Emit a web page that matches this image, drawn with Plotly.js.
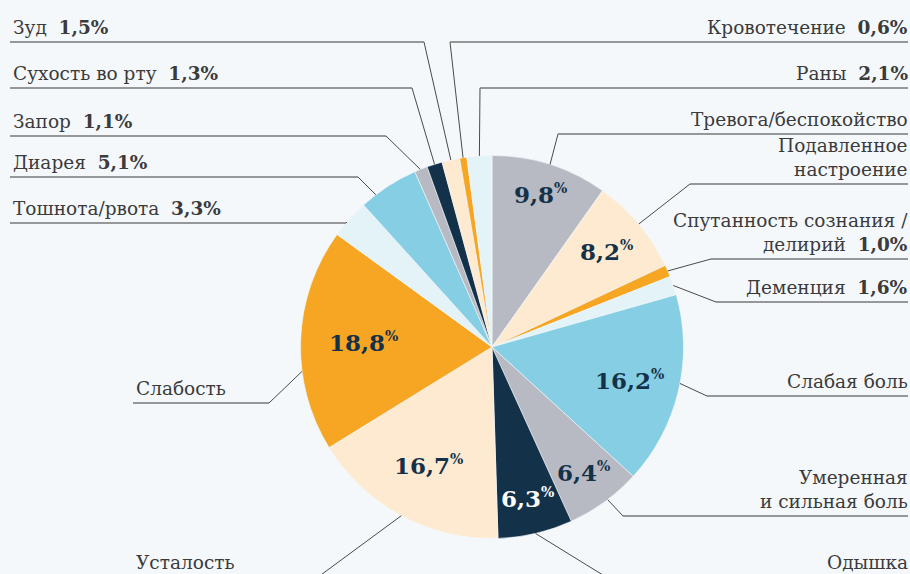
<!DOCTYPE html>
<html>
<head>
<meta charset="utf-8">
<script src="https://cdn.plot.ly/plotly-3.0.1.min.js"></script>
<style>
  html, body { margin: 0; padding: 0; background: #f4f8fb; }
  #pie { width: 910px; height: 574px; }
</style>
</head>
<body>
<div id="pie"></div>
<script>
// symptoms, clockwise from 12 o'clock
var symptoms = ['Тревога/беспокойство', 'Подавленное<br>настроение', 'Спутанность сознания /<br>делирий',
  'Деменция', 'Слабая боль', 'Умеренная<br>и сильная боль', 'Одышка', 'Усталость', 'Слабость',
  'Тошнота/рвота', 'Диарея', 'Запор', 'Сухость во рту', 'Зуд', 'Кровотечение', 'Раны'];
var shares = [9.8, 8.2, 1.0, 1.6, 16.2, 6.4, 6.3, 16.7, 18.8, 3.3, 5.1, 1.1, 1.3, 1.5, 0.6, 2.1];

var grey = '#b7bac2', cream = '#feead0', orange = '#f6a623', pale = '#e3f3f8', sky = '#86cee3', navy = '#14314a';
var sliceColors = [grey, cream, orange, pale, sky, grey, navy, cream, orange, pale, sky, grey, navy, cream, orange, pale];

// label layout (pixels): side, y of the underline, x of the elbow, where on the slice the line ends
var side   = ['r', 'r', 'r', 'r', 'r', 'r', 'r', 'l', 'l', 'l', 'l', 'l', 'l', 'l', 'r', 'r'];
var lineY  = [134, 184, 259, 302, 396, 516, 580, 580, 403, 223, 177, 136, 88, 42, 42, 88];
var elbowX = [558, 690, 711, 716, 707, 623, 611, 314, 269, 346, 358, 386, 412, 424, 450, 480];
var edgeAt = [0.5, 0.5, 0.5, 0.5, 0.46, 0.45, 0.5, 0.5, 0.36, 0.4, 0.26, 0.45, 0.5, 0.5, 0.47, 0.5];
var lineStart = [908, 908, 908, 908, 908, 908, 908, 133, 133, 10, 10, 10, 10, 10, 908, 908];
// inside numbers: radial position
var numAt = [0.84, 0.78, 0, 0, 0.74, 0.81, 0.81, 0.70, 0.67];

var W = 910, H = 574, CX = 492, CY = 347, R = 191.5;
function px(x) { return x / W; }
function py(y) { return 1 - y / H; }
function fmt(v) { return v.toFixed(1).replace('.', ','); }

var total = shares.reduce((a, b) => a + b, 0);
var annotations = [];
var shapes = [];
var cum = 0;

shares.forEach(function(v, i) {
  // point on the pie edge
  var ang = (cum + edgeAt[i] * v) / total * 2 * Math.PI;
  var ex = CX + R * Math.sin(ang), ey = CY - R * Math.cos(ang);

  shapes.push({type: 'line', xref: 'paper', yref: 'paper',
    x0: px(ex), y0: py(ey), x1: px(elbowX[i]), y1: py(lineY[i]),
    line: {color: '#4a4a4a', width: 1}});
  shapes.push({type: 'line', xref: 'paper', yref: 'paper',
    x0: px(elbowX[i]), y0: py(lineY[i]), x1: px(lineStart[i]), y1: py(lineY[i]),
    line: {color: '#777777', width: 1.6}});

  var big = v > 6;
  var txt = symptoms[i] + (big ? '' : '\u00a0 <b>' + fmt(v) + '%</b>');
  // the two bottom labels sit at the lower edge
  var bottom = lineY[i] > 574 ? 575 : lineY[i] - 2;
  annotations.push({xref: 'paper', yref: 'paper', showarrow: false,
    x: px(side[i] == 'r' ? 910 : lineStart[i] + 1), y: py(bottom),
    xanchor: side[i] == 'r' ? 'right' : 'left', yanchor: 'bottom',
    align: side[i] == 'r' ? 'right' : 'left',
    text: txt, font: {family: 'DejaVu Serif', size: 18.5, color: '#3b3b3b'}});

  if (big) {
    var mid = (cum + v / 2) / total * 2 * Math.PI;
    var r = numAt[i] * R;
    annotations.push({xref: 'paper', yref: 'paper', showarrow: false,
      x: px(CX + r * Math.sin(mid)), y: py(CY - r * Math.cos(mid)),
      xanchor: 'center', yanchor: 'middle',
      text: '<b>' + fmt(v) + '<sup><span style="font-size:14px">%</span></sup></b>',
      font: {family: 'DejaVu Serif', size: 23, color: sliceColors[i] == navy ? '#ffffff' : '#14314a'}});
  }
  cum += v;
});

var trace = {
  type: 'pie',
  labels: symptoms,
  values: shares,
  sort: false,
  direction: 'clockwise',
  rotation: 0,
  textinfo: 'none',
  hoverinfo: 'none',
  marker: {colors: sliceColors, line: {color: '#f4f8fb', width: 0.6}},
  domain: {x: [px(CX - R), px(CX + R)], y: [py(CY + R), py(CY - R)]}
};

var layout = {
  width: 910,
  height: 574,
  margin: {l: 0, r: 0, t: 0, b: 0},
  paper_bgcolor: '#f4f8fb',
  plot_bgcolor: '#f4f8fb',
  showlegend: false,
  shapes: shapes,
  annotations: annotations
};

Plotly.newPlot('pie', [trace], layout, {displayModeBar: false, staticPlot: true});
</script>
</body>
</html>
